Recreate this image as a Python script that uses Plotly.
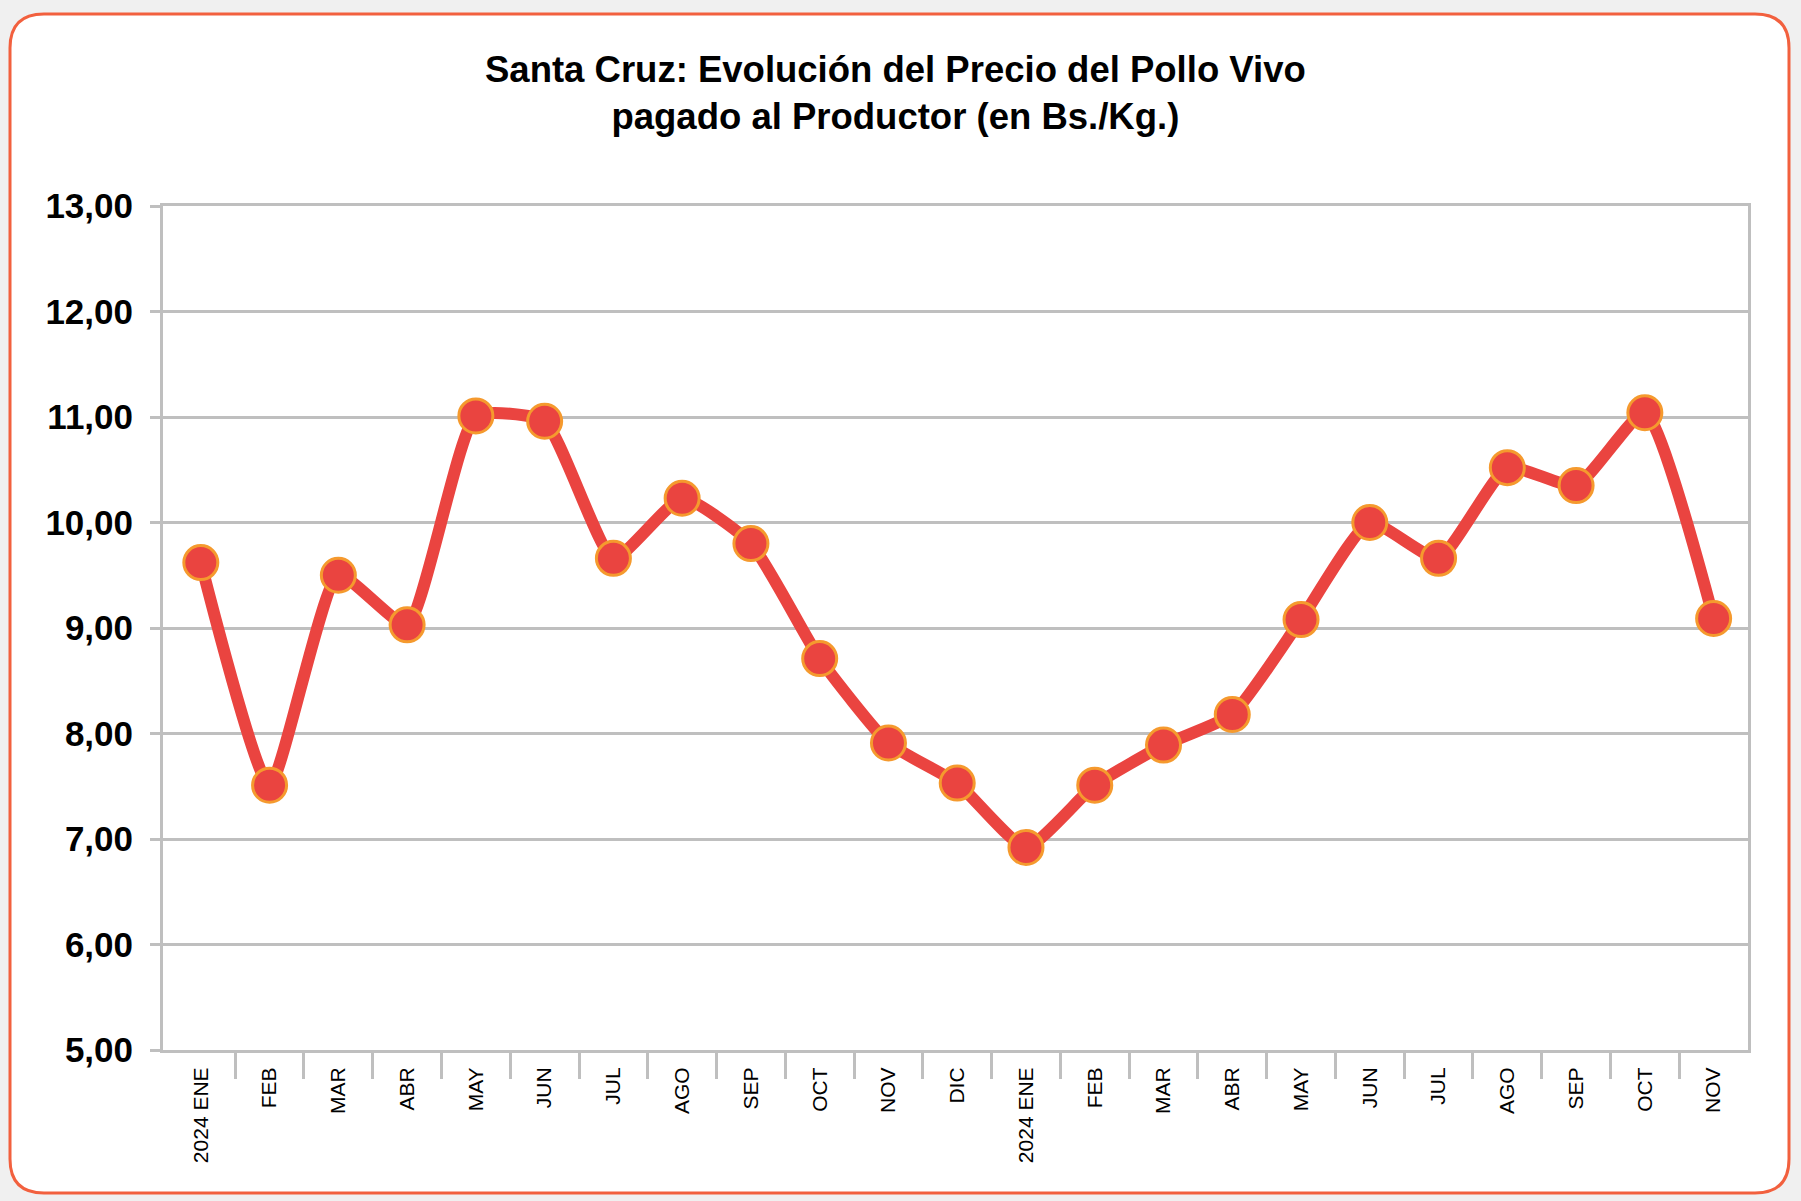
import plotly.graph_objects as go

# ---- data ----
month_labels = ["2024 ENE", "FEB", "MAR", "ABR", "MAY", "JUN", "JUL", "AGO", "SEP", "OCT", "NOV", "DIC",
                "2024 ENE", "FEB", "MAR", "ABR", "MAY", "JUN", "JUL", "AGO", "SEP", "OCT", "NOV"]
precio = [9.62, 7.51, 9.50, 9.03, 11.01, 10.96, 9.66, 10.23, 9.80, 8.71, 7.91, 7.53,
          6.92, 7.51, 7.89, 8.18, 9.08, 10.00, 9.66, 10.52, 10.35, 11.04, 9.09]
y_ticks = [5, 6, 7, 8, 9, 10, 11, 12, 13]
title_lines = ["Santa Cruz: Evolución del Precio del Pollo Vivo", "pagado al Productor (en Bs./Kg.)"]

# ---- geometry (pixels) ----
W, H = 1801, 1201
L, R, T, B = 163, 1748, 206, 1050

def px(x):
    return (x - L) / (R - L)

def py(y):
    return (B - y) / (B - T)

GRAY = "#BFBFBF"
RED = "#EA4440"
ORANGE = "#F59A2E"
FRAME = "#F2603E"
SANS = "Liberation Sans, Arial, sans-serif"

xs = list(range(len(month_labels)))
bounds = [i + 0.5 for i in range(len(month_labels) - 1)]

fig = go.Figure()
fig.add_trace(go.Scatter(
    x=xs, y=precio, mode="lines+markers",
    line=dict(color=RED, width=12, shape="spline", smoothing=0.5),
    marker=dict(size=34, color=RED, line=dict(color=ORANGE, width=3)),
    showlegend=False, hoverinfo="skip",
))

# rounded frame
x0, x1, y0, y1, r = 10, 1789, 14, 1193, 34
path = (f"M {px(x0 + r)} {py(y0)} L {px(x1 - r)} {py(y0)} "
        f"Q {px(x1)} {py(y0)} {px(x1)} {py(y0 + r)} "
        f"L {px(x1)} {py(y1 - r)} "
        f"Q {px(x1)} {py(y1)} {px(x1 - r)} {py(y1)} "
        f"L {px(x0 + r)} {py(y1)} "
        f"Q {px(x0)} {py(y1)} {px(x0)} {py(y1 - r)} "
        f"L {px(x0)} {py(y0 + r)} "
        f"Q {px(x0)} {py(y0)} {px(x0 + r)} {py(y0)} Z")
fig.add_shape(type="path", path=path, xref="paper", yref="paper",
              fillcolor="white", line=dict(color=FRAME, width=3), layer="below")

# title
fig.add_annotation(text="<b>" + "<br>".join(title_lines) + "</b>", xref="paper", yref="paper",
                   x=px(895), y=py(93), xanchor="center", yanchor="middle",
                   showarrow=False, font=dict(family=SANS, size=36.5, color="black"))

fig.update_layout(
    width=W, height=H,
    margin=dict(l=L, r=W - R, t=T, b=H - B, pad=0),
    paper_bgcolor="#F0F0F0",
    plot_bgcolor="rgba(0,0,0,0)",
    separators=",.",
    xaxis=dict(
        range=[-0.55, len(month_labels) - 0.5],
        tickmode="array", tickvals=xs, ticktext=month_labels,
        tickangle=-90, ticks="", ticklabelstandoff=6,
        tickfont=dict(family=SANS, size=21, color="black"),
        showgrid=False, zeroline=False,
        showline=True, linecolor=GRAY, linewidth=3, mirror=True,
        minor=dict(tickmode="array", tickvals=bounds, ticks="outside",
                   ticklen=26, tickwidth=3, tickcolor=GRAY, showgrid=False),
    ),
    yaxis=dict(
        range=[5, 13], tickmode="array", tickvals=y_ticks, tickformat=".2f",
        ticks="outside", ticklen=10, tickwidth=3, tickcolor=GRAY,
        ticklabelstandoff=10,
        tickfont=dict(family=SANS, size=35, color="black", weight="bold"),
        showgrid=True, gridcolor=GRAY, gridwidth=3, zeroline=False,
        showline=True, linecolor=GRAY, linewidth=3, mirror=True,
    ),
)

fig.write_html("out.html", config={"displayModeBar": False},
               post_script="document.body.style.margin='0';document.body.style.background='#F0F0F0';")
